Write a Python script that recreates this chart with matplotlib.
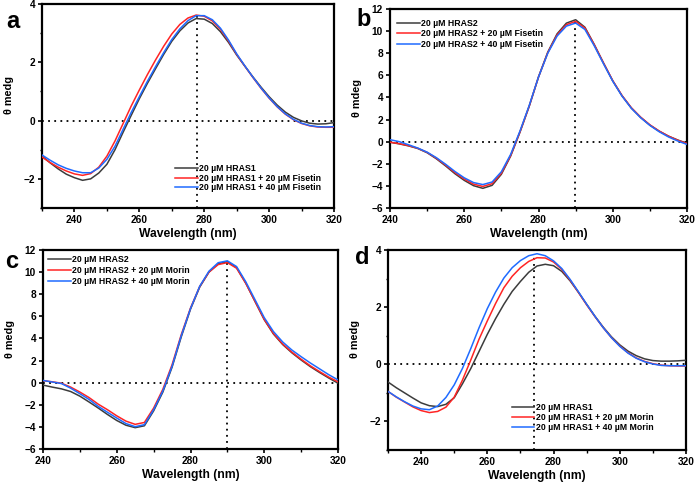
import numpy as np
import matplotlib
matplotlib.use("Agg")
import matplotlib.pyplot as plt
from matplotlib.ticker import MultipleLocator

plt.rcParams['font.family'] = ['Liberation Sans', 'DejaVu Sans']
plt.rcParams['font.weight'] = 'bold'
plt.rcParams['axes.labelweight'] = 'bold'

# wavelength grids (nm)
wl_long = np.arange(230, 320.1, 2.5)   # panels a, d
wl_short = np.arange(240, 320.1, 2.5)  # panels b, c

# --- panel a: HRAS1 + Fisetin ---
a_hras1 = [-1.22, -1.45, -1.66, -1.84, -1.96, -2.05, -2.00, -1.80, -1.50, -1.00,
           -0.40, 0.18, 0.75, 1.28, 1.78, 2.27, 2.72, 3.08, 3.35, 3.50,
           3.48, 3.33, 3.05, 2.68, 2.25, 1.87, 1.50, 1.15, 0.82, 0.53,
           0.29, 0.11, -0.01, -0.09, -0.12, -0.11, -0.07]
a_fis20 = [-1.25, -1.44, -1.60, -1.73, -1.83, -1.88, -1.82, -1.60, -1.22, -0.70,
           -0.10, 0.50, 1.05, 1.58, 2.08, 2.55, 2.97, 3.30, 3.52, 3.62,
           3.58, 3.42, 3.13, 2.73, 2.27, 1.87, 1.48, 1.11, 0.77, 0.47,
           0.22, 0.03, -0.10, -0.18, -0.22, -0.23, -0.23]
a_fis40 = [-1.18, -1.36, -1.52, -1.64, -1.73, -1.79, -1.79, -1.63, -1.33, -0.88,
           -0.30, 0.28, 0.82, 1.35, 1.85, 2.33, 2.78, 3.15, 3.43, 3.60,
           3.60, 3.46, 3.17, 2.76, 2.29, 1.88, 1.49, 1.12, 0.78, 0.48,
           0.23, 0.04, -0.09, -0.17, -0.21, -0.22, -0.21]

# --- panel b: HRAS2 + Fisetin ---
b_hras2 = [-0.05, -0.20, -0.38, -0.62, -1.00, -1.55, -2.20, -2.90, -3.50, -3.98,
           -4.22, -3.95, -2.95, -1.30, 0.85, 3.20, 5.85, 8.10, 9.75, 10.72,
           11.03, 10.35, 8.80, 7.12, 5.50, 4.15, 3.05, 2.20, 1.50, 0.95,
           0.50, 0.15, -0.15]
b_fis20 = [-0.05, -0.18, -0.36, -0.60, -0.97, -1.50, -2.12, -2.80, -3.38, -3.84,
           -4.05, -3.80, -2.85, -1.25, 0.88, 3.22, 5.85, 8.05, 9.65, 10.58,
           10.88, 10.28, 8.78, 7.12, 5.52, 4.17, 3.07, 2.22, 1.52, 0.96,
           0.50, 0.13, -0.18]
b_fis40 = [0.18, 0.00, -0.28, -0.58, -0.95, -1.45, -2.05, -2.70, -3.27, -3.70,
           -3.88, -3.65, -2.72, -1.15, 0.95, 3.27, 5.85, 8.00, 9.55, 10.45,
           10.73, 10.15, 8.68, 7.05, 5.47, 4.12, 3.02, 2.17, 1.47, 0.90,
           0.43, 0.06, -0.25]

# --- panel c: HRAS2 + Morin ---
c_hras2 = [-0.22, -0.40, -0.56, -0.80, -1.22, -1.75, -2.30, -2.88, -3.42, -3.85,
           -4.07, -3.90, -2.55, -0.85, 1.40, 4.15, 6.65, 8.65, 10.00, 10.75,
           10.95, 10.40, 9.00, 7.35, 5.70, 4.40, 3.45, 2.70, 2.05, 1.45,
           0.92, 0.42, -0.05]
c_mor20 = [0.18, 0.08, -0.05, -0.40, -0.85, -1.35, -1.95, -2.45, -3.00, -3.48,
           -3.77, -3.60, -2.30, -0.60, 1.62, 4.35, 6.75, 8.70, 10.00, 10.68,
           10.86, 10.35, 8.98, 7.35, 5.72, 4.45, 3.50, 2.76, 2.12, 1.52,
           1.00, 0.50, 0.08]
c_mor40 = [0.20, 0.06, -0.08, -0.50, -1.00, -1.52, -2.15, -2.68, -3.20, -3.70,
           -3.98, -3.80, -2.45, -0.75, 1.48, 4.25, 6.70, 8.72, 10.08, 10.85,
           11.02, 10.50, 9.12, 7.50, 5.88, 4.62, 3.68, 2.95, 2.35, 1.78,
           1.25, 0.72, 0.25]

# --- panel d: HRAS1 + Morin ---
d_hras1 = [-0.62, -0.82, -1.00, -1.18, -1.35, -1.45, -1.48, -1.40, -1.17, -0.68,
           -0.15, 0.45, 1.05, 1.60, 2.10, 2.55, 2.90, 3.22, 3.44, 3.50,
           3.45, 3.25, 2.92, 2.52, 2.10, 1.68, 1.30, 0.96, 0.68, 0.46,
           0.30, 0.19, 0.13, 0.11, 0.11, 0.12, 0.14]
d_mor20 = [-0.95, -1.15, -1.32, -1.49, -1.62, -1.69, -1.65, -1.50, -1.15, -0.55,
           0.15, 0.88, 1.52, 2.13, 2.68, 3.08, 3.38, 3.60, 3.73, 3.72,
           3.58, 3.32, 2.95, 2.52, 2.08, 1.67, 1.28, 0.93, 0.64, 0.40,
           0.22, 0.10, 0.02, -0.03, -0.05, -0.06, -0.06]
d_mor40 = [-0.95, -1.14, -1.31, -1.46, -1.56, -1.59, -1.46, -1.16, -0.72, -0.14,
           0.55, 1.28, 1.95, 2.53, 3.02, 3.38, 3.63, 3.80, 3.87, 3.80,
           3.62, 3.35, 2.97, 2.54, 2.10, 1.68, 1.28, 0.93, 0.63, 0.39,
           0.21, 0.09, 0.01, -0.04, -0.05, -0.05, -0.05]

labels_a = ['20 µM HRAS1', '20 µM HRAS1 + 20 µM Fisetin', '20 µM HRAS1 + 40 µM Fisetin']
labels_b = ['20 µM HRAS2', '20 µM HRAS2 + 20 µM Fisetin', '20 µM HRAS2 + 40 µM Fisetin']
labels_c = ['20 µM HRAS2', '20 µM HRAS2 + 20 µM Morin', '20 µM HRAS2 + 40 µM Morin']
labels_d = ['20 µM HRAS1', '20 µM HRAS1 + 20 µM Morin', '20 µM HRAS1 + 40 µM Morin']

# peak guide wavelengths (vertical dotted lines)
guide_x = [277.8, 289.8, 289.8, 274.2]

colors = ['#3c3c3c', '#ff2424', '#1f6bff']

W, H = 697, 483
fig = plt.figure(figsize=(W / 100, H / 100), dpi=100)


def make_axes(l, r, t, b):
    return fig.add_axes([l / W, 1 - b / H, (r - l) / W, (b - t) / H])


panels = [
    dict(box=(42, 334, 4, 208), wl=wl_long, ys=[a_hras1, a_fis20, a_fis40], labels=labels_a,
         xlim=(230, 320), ylim=(-3, 4), yminor=1, ylabel='θ medg', letter='a',
         leg=(0.455, 0.215), lsp=0.05, lpos=(13, 22)),
    dict(box=(390, 687, 9, 208), wl=wl_short, ys=[b_hras2, b_fis20, b_fis40], labels=labels_b,
         xlim=(240, 320), ylim=(-6, 12), yminor=None, ylabel='θ mdeg', letter='b',
         leg=(0.025, 0.95), lsp=0.15, lpos=(364, 20)),
    dict(box=(43, 338, 250, 449), wl=wl_short, ys=[c_hras2, c_mor20, c_mor40], labels=labels_c,
         xlim=(240, 320), ylim=(-6, 12), yminor=None, ylabel='θ medg', letter='c',
         leg=(0.018, 0.975), lsp=0.25, lpos=(12, 261)),
    dict(box=(388, 686, 250, 450), wl=wl_long, ys=[d_hras1, d_mor20, d_mor40], labels=labels_d,
         xlim=(230, 320), ylim=(-3, 4), yminor=1, ylabel='θ medg', letter='d',
         leg=(0.415, 0.235), lsp=0.1, lpos=(362, 257)),
]

for i, p in enumerate(panels):
    l, r, t, b = p['box']
    ax = make_axes(l, r, t, b)
    wl = p['wl']

    # zero line and peak guide
    ax.axhline(0, color='black', lw=1.3, ls=(0, (1, 2.4)), zorder=1)
    top = max(np.interp(guide_x[i], wl, s) for s in p['ys'])
    ax.plot([guide_x[i], guide_x[i]], [p['ylim'][0], top], color='black',
            lw=1.3, ls=(0, (1, 2.4)), zorder=1)

    for s, c, lab in zip(p['ys'], colors, p['labels']):
        ax.plot(wl, s, color=c, lw=1.1, label=lab, zorder=3,
                solid_joinstyle='round')

    ax.set_xlim(*p['xlim'])
    ax.set_ylim(*p['ylim'])
    ax.xaxis.set_major_locator(MultipleLocator(20))
    ax.xaxis.set_minor_locator(MultipleLocator(10))
    ax.yaxis.set_major_locator(MultipleLocator(2))
    if p['yminor']:
        ax.yaxis.set_minor_locator(MultipleLocator(p['yminor']))

    for sp in ax.spines.values():
        sp.set_linewidth(1.6)
    ax.tick_params(which='major', direction='out', length=3, width=1.2,
                   labelsize=7.3, pad=2)
    ax.tick_params(which='minor', direction='out', length=1.8, width=1.0)
    for tl in ax.get_xticklabels() + ax.get_yticklabels():
        tl.set_fontweight('bold')

    ax.set_xlabel('Wavelength (nm)', fontsize=8.7, fontweight='bold')
    ax.set_ylabel(p['ylabel'], fontsize=7.8, fontweight='bold')
    ax.xaxis.label.set_va('center')
    ax.yaxis.label.set_va('center')
    ax.xaxis.set_label_coords(0.5, -26 / (b - t))
    ax.yaxis.set_label_coords(-33 / (r - l), 0.555)

    ax.legend(loc='upper left', bbox_to_anchor=p['leg'], frameon=False,
              prop={'size': 6.3, 'weight': 'bold'}, handlelength=2.6,
              handletextpad=0.15, labelspacing=p['lsp'], borderpad=0,
              borderaxespad=0)

    lx, ly = p['lpos']
    fig.text(lx / W, 1 - ly / H, p['letter'], fontsize=17, fontweight='bold',
             ha='center', va='center')

fig.savefig('out.png', dpi=100)
